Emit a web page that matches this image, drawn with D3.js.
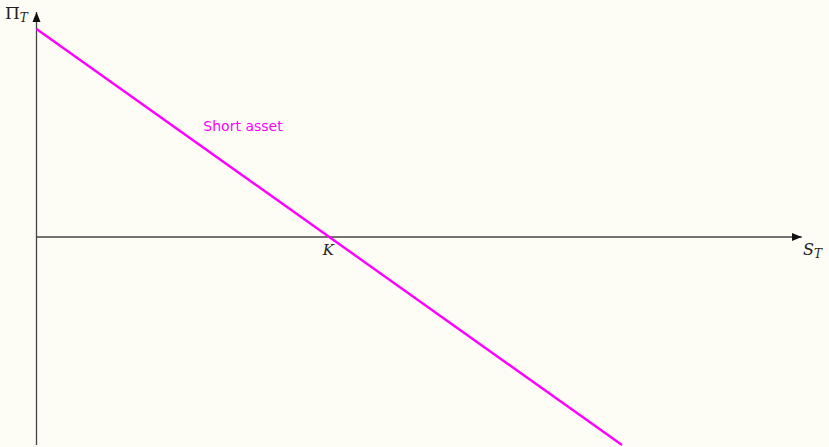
<!DOCTYPE html>
<html>
<head>
<meta charset="utf-8">
<script src="https://cdn.jsdelivr.net/npm/d3@7"></script>
<style>
  html, body { margin: 0; padding: 0; background: #fdfdf6; }
  svg { display: block; }
  .eje { stroke: #444; stroke-width: 1.3; fill: none; }
  .etiqueta { font-family: "DejaVu Serif", "Liberation Serif", serif; fill: #222; }
</style>
</head>
<body>
<script>
var anchoSvg = 829,
    altoSvg = 447;

// datos: precio de ejercicio y puntos de la recta del payoff (posicion corta)
var strike = 50;
var precios = [0, 100];
var pagos = [50, -50];
var etiquetaSerie = "Short asset";
var limitesX = [0, 130.7];
var limitesY = [-50, 54.1];

var escalaX = d3.scaleLinear()
    .domain([0, 100])
    .range([36.5, 622]);

var escalaY = d3.scaleLinear()
    .domain([-50, 50])
    .range([445, 29]);

var elementoSvg = d3.select('body')
    .append('svg')
    .attr('width', anchoSvg)
    .attr('height', altoSvg);

var defs = elementoSvg.append('defs');
defs.append('marker')
    .attr('id', 'flecha')
    .attr('viewBox', '0 0 10 10')
    .attr('refX', 10)
    .attr('refY', 5)
    .attr('markerWidth', 10)
    .attr('markerHeight', 10)
    .attr('markerUnits', 'userSpaceOnUse')
    .attr('orient', 'auto')
    .append('path')
    .attr('d', 'M0,1 L10,5 L0,9 Z')
    .attr('fill', '#111');

// eje X
elementoSvg.append('line')
    .attr('class', 'eje')
    .attr('x1', escalaX(limitesX[0]))
    .attr('x2', escalaX(limitesX[1]))
    .attr('y1', escalaY(0))
    .attr('y2', escalaY(0))
    .attr('marker-end', 'url(#flecha)');

// eje Y
elementoSvg.append('line')
    .attr('class', 'eje')
    .attr('x1', escalaX(0))
    .attr('x2', escalaX(0))
    .attr('y1', escalaY(limitesY[0]))
    .attr('y2', escalaY(limitesY[1]))
    .attr('marker-end', 'url(#flecha)');

// recta del payoff
var linea = d3.line()
    .x(d => escalaX(d[0]))
    .y(d => escalaY(d[1]));

elementoSvg.append('path')
    .datum(d3.zip(precios, pagos))
    .attr('d', linea)
    .attr('fill', 'none')
    .attr('stroke', '#ff00ff')
    .attr('stroke-width', 2.4);

// etiqueta de la serie
elementoSvg.append('text')
    .text(etiquetaSerie)
    .attr('x', escalaX(28.5))
    .attr('y', escalaY(25.5))
    .attr('font-family', '"DejaVu Sans", sans-serif')
    .attr('font-size', 14)
    .attr('fill', '#ff00ff');

// K
elementoSvg.append('text')
    .attr('class', 'etiqueta')
    .attr('x', escalaX(strike) - 1)
    .attr('y', escalaY(0) + 18)
    .attr('text-anchor', 'middle')
    .attr('font-size', 15)
    .attr('font-style', 'italic')
    .text('K');

// S_T
var st = elementoSvg.append('text')
    .attr('class', 'etiqueta')
    .attr('x', 803)
    .attr('y', escalaY(0) + 18)
    .attr('font-size', 16)
    .attr('font-style', 'italic');
st.append('tspan').text('S');
st.append('tspan').attr('font-size', 12).attr('dy', 3).text('T');

// Pi_T
var pt = elementoSvg.append('text')
    .attr('class', 'etiqueta')
    .attr('x', 5)
    .attr('y', 19)
    .attr('font-size', 17);
pt.append('tspan').text('Π');
pt.append('tspan').attr('font-size', 12).attr('font-style', 'italic').attr('dy', 3).text('T');
</script>
</body>
</html>
